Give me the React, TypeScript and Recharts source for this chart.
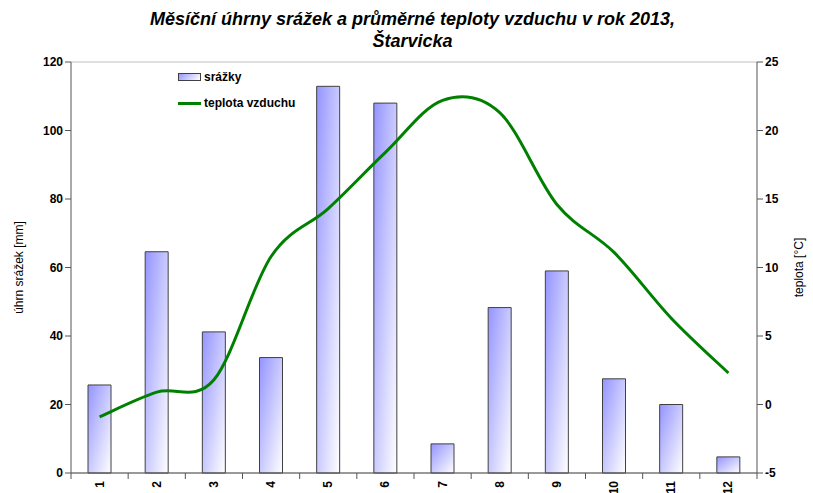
import React from 'react';
import {
  Bar,
  CartesianGrid,
  ComposedChart,
  Line,
  XAxis,
  YAxis,
} from 'recharts';

const months = ['1', '2', '3', '4', '5', '6', '7', '8', '9', '10', '11', '12'];
const srazky = [25.7, 64.6, 41.2, 33.7, 112.9, 108, 8.5, 48.3, 59, 27.5, 20, 4.7];
const teplota = [-0.9, 0.9, 1.8, 10.8, 14.3, 18.4, 22.2, 21.3, 14.6, 11.1, 6.3, 2.3];
const leftTicks = [0, 20, 40, 60, 80, 100, 120];
const rightTicks = [-5, 0, 5, 10, 15, 20, 25];

const data = months.map((m, i) => ({ month: m, srazky: srazky[i], teplota: teplota[i] }));

const W = 813;
const H = 493;
const PLOT_LEFT = 71;
const PLOT_RIGHT = 757;
const PLOT_BOTTOM = 473;
const BAND = (PLOT_RIGHT - PLOT_LEFT) / months.length;
const FONT = '"Liberation Sans", Arial, sans-serif';

// Excel-like smoothed line (Catmull-Rom through the points)
const excelSmooth = (context: any) => {
  let pts: number[][] = [];
  return {
    areaStart() {},
    areaEnd() {},
    lineStart() {
      pts = [];
    },
    point(x: number, y: number) {
      pts.push([+x, +y]);
    },
    lineEnd() {
      if (!pts.length) return;
      context.moveTo(pts[0][0], pts[0][1]);
      for (let i = 0; i < pts.length - 1; i++) {
        const p0 = pts[i - 1] || pts[i];
        const p1 = pts[i];
        const p2 = pts[i + 1];
        const p3 = pts[i + 2] || p2;
        context.bezierCurveTo(
          p1[0] + (p2[0] - p0[0]) / 6,
          p1[1] + (p2[1] - p0[1]) / 6,
          p2[0] - (p3[0] - p1[0]) / 6,
          p2[1] - (p3[1] - p1[1]) / 6,
          p2[0],
          p2[1],
        );
      }
    },
  };
};

const XTick = (props: any) => {
  const { x, payload, index } = props;
  const left = x - BAND / 2;
  return (
    <g>
      <line x1={left} y1={PLOT_BOTTOM} x2={left} y2={PLOT_BOTTOM + 6} stroke="#555" />
      {index === months.length - 1 && (
        <line x1={x + BAND / 2} y1={PLOT_BOTTOM} x2={x + BAND / 2} y2={PLOT_BOTTOM + 6} stroke="#555" />
      )}
      <text
        x={x}
        y={PLOT_BOTTOM + 8}
        transform={`rotate(-90, ${x}, ${PLOT_BOTTOM + 8})`}
        textAnchor="end"
        dy={4}
        fontSize={12}
        fontWeight="bold"
        fontFamily={FONT}
        fill="#000"
      >
        {payload.value}
      </text>
    </g>
  );
};

const LegendBox = () => (
  <div
    style={{
      position: 'absolute',
      left: 178,
      top: 64,
      fontFamily: FONT,
      fontSize: 12,
      fontWeight: 'bold',
      lineHeight: '26px',
    }}
  >
    <div style={{ display: 'flex', alignItems: 'center' }}>
      <span
        style={{
          width: 21,
          height: 6,
          border: '1px solid #404040',
          background: 'linear-gradient(135deg, #9999ff, #ffffff)',
          marginRight: 3,
        }}
      />
      srážky
    </div>
    <div style={{ display: 'flex', alignItems: 'center' }}>
      <span style={{ width: 23, height: 3, background: '#008000', marginRight: 3 }} />
      teplota vzduchu
    </div>
  </div>
);

export default function App() {
  return (
    <div style={{ position: 'absolute', left: 0, top: 0, width: W, height: H, background: '#fff', overflow: 'hidden' }}>
      <div
        style={{
          position: 'absolute',
          left: 0,
          top: 8,
          width: W,
          textAlign: 'center',
          fontFamily: FONT,
          fontSize: 18,
          fontWeight: 'bold',
          fontStyle: 'italic',
          lineHeight: '22px',
          paddingLeft: 12,
          boxSizing: 'border-box',
        }}
      >
        Měsíční úhrny srážek a průměrné teploty vzduchu v rok 2013,
        <br />
        Štarvicka
      </div>
      <ComposedChart
        width={W}
        height={H}
        data={data}
        margin={{ top: 62, right: 16, bottom: 0, left: 26 }}
        barSize={23}
      >
        <defs>
          <linearGradient id="barGrad" x1="0" y1="0" x2="1" y2="1">
            <stop offset="0%" stopColor="#9494ff" />
            <stop offset="100%" stopColor="#ffffff" />
          </linearGradient>
        </defs>
        <CartesianGrid vertical={false} stroke="#c0c0c0" />
        <XAxis
          dataKey="month"
          height={20}
          tickLine={false}
          axisLine={{ stroke: '#555' }}
          tick={<XTick />}
          interval={0}
        />
        <YAxis
          yAxisId="left"
          domain={[0, 120]}
          ticks={leftTicks}
          width={45}
          axisLine={{ stroke: '#555' }}
          tickLine={{ stroke: '#555' }}
          tickSize={6}
          tick={{ fontSize: 12, fontWeight: 'bold', fill: '#000', fontFamily: FONT }}
          label={{
            value: 'úhrn srážek [mm]',
            angle: -90,
            position: 'insideLeft',
            offset: -7,
            style: { fontSize: 12, fill: '#000', fontFamily: FONT, textAnchor: 'middle' },
          }}
        />
        <YAxis
          yAxisId="right"
          orientation="right"
          domain={[-5, 25]}
          ticks={rightTicks}
          width={40}
          axisLine={{ stroke: '#555' }}
          tickLine={{ stroke: '#555' }}
          tickSize={6}
          tick={{ fontSize: 12, fontWeight: 'bold', fill: '#000', fontFamily: FONT, textAnchor: 'start' }}
          label={{
            value: 'teplota [°C]',
            angle: -90,
            position: 'insideRight',
            offset: -2,
            style: { fontSize: 12, fill: '#000', fontFamily: FONT, textAnchor: 'middle' },
          }}
        />
        <Bar
          yAxisId="left"
          dataKey="srazky"
          name="srážky"
          fill="url(#barGrad)"
          stroke="#404040"
          strokeWidth={1}
          isAnimationActive={false}
        />
        <Line
          yAxisId="right"
          dataKey="teplota"
          name="teplota vzduchu"
          type={excelSmooth as any}
          stroke="#008000"
          strokeWidth={3}
          dot={false}
          isAnimationActive={false}
        />
      </ComposedChart>
      <LegendBox />
    </div>
  );
}
